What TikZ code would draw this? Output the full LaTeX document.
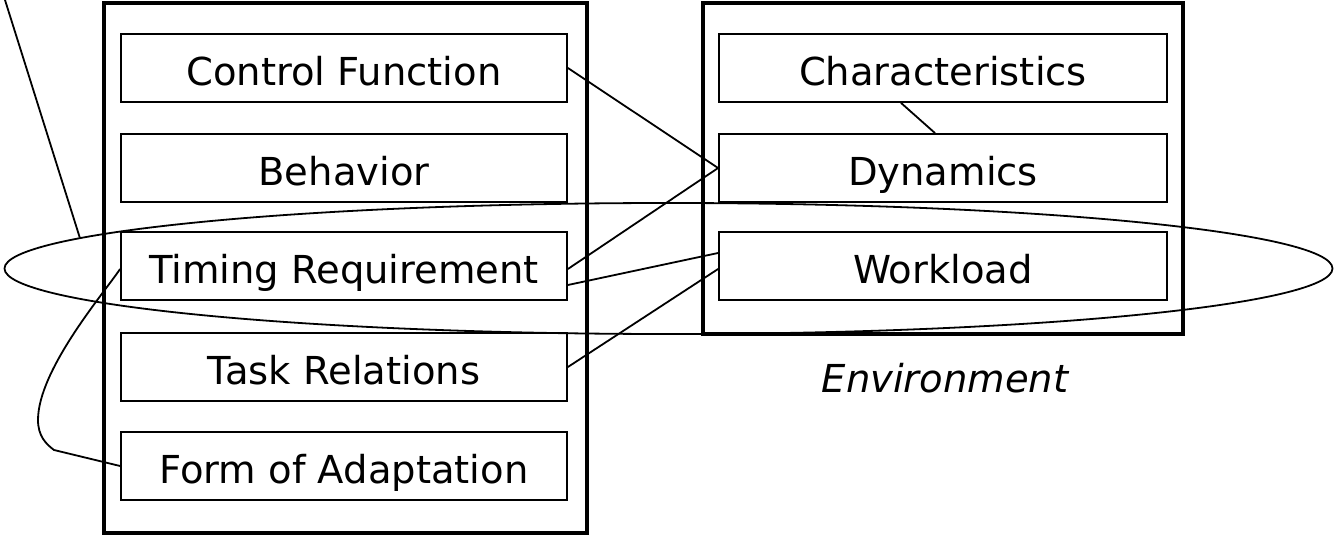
\documentclass[tikz,border=0pt]{standalone}
\usepackage{fontspec}
\setmainfont{DejaVu Sans}
\usetikzlibrary{shapes.geometric}
\begin{document}
\begin{tikzpicture}[x=1pt,y=-1pt,
  outerbox/.style={draw,line width=3.5pt},
  itembox/.style={draw,line width=1.8pt,minimum height=68pt,inner sep=0pt,
     text height=35pt,text depth=0pt,
     font=\fontsize{38.5}{46}\selectfont},
  leftitem/.style={itembox,minimum width=446pt},
  rightitem/.style={itembox,minimum width=448pt},
  link/.style={line width=1.8pt}]
\useasboundingbox (0,0) rectangle (1338,537);
% outer frames
\draw[outerbox] (104,3) rectangle (587,533);
\draw[outerbox] (703,3) rectangle (1183,334);
% left items
\node[leftitem] (cf) at (344,68) {Control Function};
\node[leftitem] (be) at (344,168) {Behavior};
\node[leftitem] (tr) at (344,266) {Timing Requirement};
\node[leftitem] (ta) at (344,367) {Task Relations};
\node[leftitem] (fa) at (344,466) {Form of Adaptation};
% right items
\node[rightitem] (ch) at (943,68) {Characteristics};
\node[rightitem] (dy) at (943,168) {Dynamics};
\node[rightitem] (wl) at (943,266) {Workload};
% label
\node[font=\fontsize{38.5}{46}\selectfont\itshape] (env) at (945,378) {Environment};
% ellipse
\node[draw,ellipse,line width=1.8pt,minimum width=1328pt,minimum height=131pt,inner sep=0pt] (ell) at (668.5,268.5) {};
\coordinate (top) at (5,0);
\draw[link] (top) -- (ell.177.3);
% connectors
\draw[link] (cf.east) -- (dy.west);
\draw[link] ([yshift=-3pt]tr.east) -- (dy.west);
\draw[link] ([yshift=-19pt]tr.east) -- ([yshift=13pt]wl.west);
\draw[link] (ta.east) -- ([yshift=-3pt]wl.west);
\draw[link] ([xshift=-42pt]ch.south) -- ([xshift=-8pt]dy.north);
\coordinate (low) at (38,420);
\coordinate (bend) at (54,450);
\draw[link] ([yshift=-3pt]tr.west) .. controls (104,293) and (38,370) .. (low)
  .. controls (38,436) and (46,444) .. (bend) -- (fa.west);
\end{tikzpicture}
\end{document}
